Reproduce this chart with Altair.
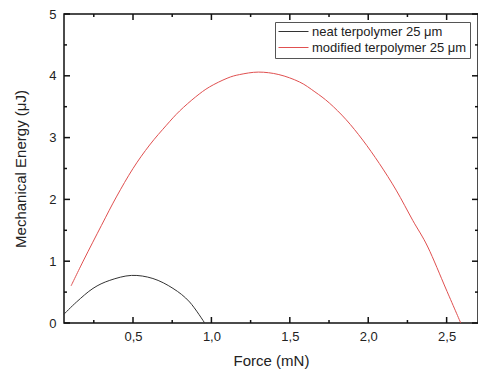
import altair as alt
import pandas as pd

# --- data ---
series_names = ["neat terpolymer 25 μm", "modified terpolymer 25 μm"]
series_colors = ["#333333", "#e05050"]

neat_force = [0.059, 0.14, 0.245, 0.352, 0.49, 0.627, 0.755, 0.861, 0.957]
neat_energy = [0.14, 0.34, 0.56, 0.69, 0.77, 0.72, 0.56, 0.34, 0.0]

mod_force = [0.105, 0.186, 0.299, 0.394, 0.50, 0.606, 0.713, 0.797, 0.90, 0.988,
             1.10, 1.18, 1.30, 1.43, 1.562, 1.66, 1.752, 1.859, 1.965, 2.071,
             2.178, 2.284, 2.38, 2.496, 2.59]
mod_energy = [0.60, 1.02, 1.58, 2.04, 2.50, 2.88, 3.20, 3.43, 3.66, 3.82,
              3.96, 4.02, 4.06, 4.02, 3.90, 3.74, 3.56, 3.29, 2.96, 2.58,
              2.15, 1.66, 1.23, 0.55, 0.0]

x_major = [0.5, 1.0, 1.5, 2.0, 2.5]
x_minor = [0.25, 0.75, 1.25, 1.75, 2.25]
y_major = [0, 1, 2, 3, 4, 5]
y_minor = [0.5, 1.5, 2.5, 3.5, 4.5]

W, H = 414, 309
FONT = "Liberation Sans"
AXC = "#111111"
TXT = "#222222"

X0, X1 = 0.06, 2.70
Y0, Y1 = 0.0, 5.0
px_x = (X1 - X0) / W
px_y = (Y1 - Y0) / H

rows = []
for f, e in zip(neat_force, neat_energy):
    rows.append({"kind": series_names[0], "seg": "neat", "force": f, "energy": e, "w": 1})
for f, e in zip(mod_force, mod_energy):
    rows.append({"kind": series_names[1], "seg": "mod", "force": f, "energy": e, "w": 1})

# inward frame ticks (major 6 px, minor 3 px) on all four edges
k = 0
for vals, n in ((x_major, 6), (x_minor, 3)):
    for v in vals:
        for a, b in ((Y0, Y0 + n * px_y), (Y1, Y1 - n * px_y)):
            rows.append({"kind": "axis", "seg": f"t{k}", "force": v, "energy": a, "w": 1.5})
            rows.append({"kind": "axis", "seg": f"t{k}", "force": v, "energy": b, "w": 1.5})
            k += 1
for vals, n in ((y_major, 6), (y_minor, 3)):
    for v in vals:
        for a, b in ((X0, X0 + n * px_x), (X1, X1 - n * px_x)):
            rows.append({"kind": "axis", "seg": f"t{k}", "force": a, "energy": v, "w": 1.5})
            rows.append({"kind": "axis", "seg": f"t{k}", "force": b, "energy": v, "w": 1.5})
            k += 1
df = pd.DataFrame(rows)

chart = alt.Chart(df).mark_line(interpolate="cardinal").encode(
    x=alt.X("force:Q", scale=alt.Scale(domain=[X0, X1], nice=False, zero=False),
            axis=alt.Axis(
                orient="bottom", values=x_major, ticks=False, domain=False,
                labelExpr="replace(format(datum.value, '.1f'), '.', ',')",
                labelFont=FONT, labelFontSize=13, labelColor=TXT, labelPadding=7,
                title="Force (mN)", titleFont=FONT, titleFontSize=15,
                titleFontWeight="normal", titleColor=TXT, titlePadding=10, grid=False)),
    y=alt.Y("energy:Q", scale=alt.Scale(domain=[Y0, Y1], nice=False, zero=False),
            axis=alt.Axis(
                orient="left", values=y_major, ticks=False, domain=False, format="d",
                labelFont=FONT, labelFontSize=13, labelColor=TXT, labelPadding=8,
                title="Mechanical Energy (μJ)", titleFont=FONT, titleFontSize=15,
                titleFontWeight="normal", titleColor=TXT, titlePadding=20, grid=False)),
    color=alt.Color("kind:N",
                    scale=alt.Scale(domain=series_names + ["axis"],
                                    range=series_colors + [AXC]),
                    legend=alt.Legend(
                        values=series_names,
                        title=None, orient="none", legendX=211, legendY=8,
                        symbolType="M-1,0H4", symbolSize=144, symbolStrokeWidth=1,
                        labelFont=FONT, labelFontSize=13, labelColor=TXT,
                        labelOffset=21, strokeColor="#555", padding=3,
                        rowPadding=2, fillColor="white")),
    strokeWidth=alt.StrokeWidth("w:Q", scale=None, legend=None),
    detail="seg:N",
).properties(
    width=W, height=H,
    autosize=alt.AutoSizeParams(type="none"),
    padding={"left": 64, "top": 14, "right": 0, "bottom": 47},
    background="white",
).configure_view(stroke=AXC, strokeWidth=1.5)

chart.save("out.html", embed_options={"renderer": "svg", "actions": False})
